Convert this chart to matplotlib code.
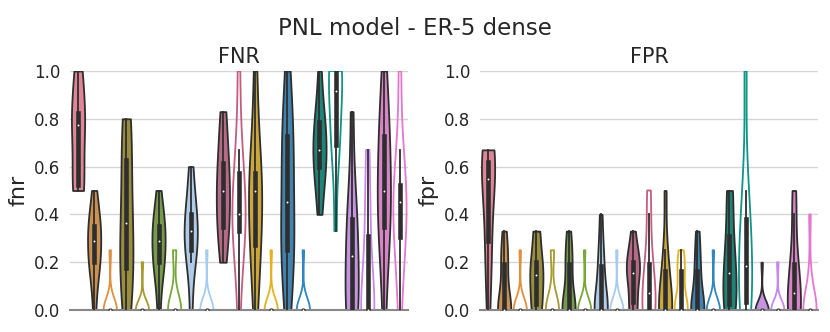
import matplotlib
matplotlib.use('Agg')
import matplotlib.pyplot as plt
import numpy as np
import colorsys
from matplotlib import colors as mcolors

# 방법별 색상 (첫 번째는 채워진 것 하나, 나머지는 채움/윤곽 쌍)
base_colors = ['#f0748f', '#e0903d', '#a89a2e', '#78a83a', '#a6cbf0', '#c45c82',
               '#e5b21f', '#2f86c0', '#0d9585', '#c986ec', '#e676cf']

# 각 바이올린: (색 번호, 채움 여부)
violin_keys = [(0, True)]
for c in range(1, len(base_colors)):
    violin_keys += [(c, True), (c, False)]

Z9 = [0, 0, 0, 0, 0, 0, 0, 0, 0]

fnr_values = [
    [0.5, 0.5, 0.5, 0.6, 0.75, 0.8, 0.8, 0.83, 1.0, 1.0],
    [0, 0.15, 0.2, 0.2, 0.25, 0.33, 0.33, 0.36, 0.4, 0.5],
    Z9 + [0.25],
    [0, 0.1, 0.17, 0.2, 0.33, 0.4, 0.5, 0.67, 0.75, 0.8],
    Z9 + [0.2],
    [0, 0.15, 0.2, 0.2, 0.25, 0.33, 0.33, 0.36, 0.4, 0.5],
    Z9[:8] + [0.25, 0.25],
    [0, 0.2, 0.25, 0.25, 0.33, 0.33, 0.4, 0.4, 0.5, 0.6],
    Z9 + [0.25],
    [0.2, 0.33, 0.33, 0.4, 0.5, 0.5, 0.6, 0.62, 0.75, 0.83],
    [0, 0.25, 0.33, 0.33, 0.4, 0.4, 0.5, 0.6, 0.67, 1.0],
    [0, 0.2, 0.25, 0.33, 0.5, 0.5, 0.5, 0.6, 0.75, 1.0],
    Z9 + [0.25],
    [0, 0.2, 0.25, 0.25, 0.4, 0.5, 0.67, 0.75, 0.75, 1.0],
    Z9 + [0.25],
    [0.4, 0.5, 0.6, 0.6, 0.67, 0.67, 0.75, 0.8, 0.83, 1.0],
    [0.33, 0.67, 0.67, 0.75, 0.83, 1.0, 1.0, 1.0, 1.0, 1.0],
    [0, 0, 0, 0, 0.2, 0.25, 0.33, 0.4, 0.5, 0.83],
    [0, 0, 0, 0, 0, 0, 0.25, 0.33, 0.5, 0.67],
    [0, 0.25, 0.33, 0.4, 0.5, 0.5, 0.67, 0.75, 0.8, 1.0],
    [0, 0.2, 0.3, 0.33, 0.4, 0.5, 0.5, 0.53, 0.67, 1.0],
]

fpr_values = [
    [0, 0.2, 0.25, 0.4, 0.5, 0.6, 0.6, 0.625, 0.67, 0.67],
    [0, 0, 0, 0, 0, 0, 0.17, 0.2, 0.25, 0.33],
    Z9 + [0.25],
    [0, 0, 0, 0.1, 0.14, 0.15, 0.2, 0.2, 0.33, 0.33],
    Z9[:8] + [0.25, 0.25],
    [0, 0, 0, 0, 0, 0, 0.17, 0.2, 0.25, 0.33],
    Z9 + [0.25],
    [0, 0, 0, 0, 0, 0, 0.14, 0.2, 0.25, 0.4],
    Z9 + [0.25],
    [0, 0, 0, 0.14, 0.14, 0.17, 0.2, 0.2, 0.25, 0.33],
    [0, 0, 0, 0, 0, 0.14, 0.17, 0.2, 0.4, 0.5],
    [0, 0, 0, 0, 0, 0, 0.14, 0.17, 0.25, 0.5],
    [0, 0, 0, 0, 0, 0, 0.14, 0.17, 0.2, 0.25],
    [0, 0, 0, 0, 0, 0, 0.14, 0.17, 0.25, 0.33],
    Z9 + [0.25],
    [0, 0, 0, 0.1, 0.14, 0.17, 0.25, 0.33, 0.5, 0.5],
    [0, 0, 0, 0.14, 0.17, 0.2, 0.33, 0.4, 0.5, 1.0],
    Z9 + [0.2],
    Z9 + [0.2],
    [0, 0, 0, 0, 0, 0.14, 0.17, 0.2, 0.4, 0.5],
    Z9[:8] + [0.14, 0.4],
]

GRAY = '#2e2e2e'
LW = 1.3


def desaturate(color, prop=0.75):
    h, l, s = colorsys.rgb_to_hls(*mcolors.to_rgb(color))
    return colorsys.hls_to_rgb(h, l, s * prop)


def draw_panel(ax, values, title, ylabel):
    pos = np.arange(len(values))
    parts = ax.violinplot(values, positions=pos, widths=0.82, showextrema=False,
                          showmeans=False, showmedians=False, points=100)
    for body, (ci, filled) in zip(parts['bodies'], violin_keys):
        body.set_alpha(1)
        body.set_linewidth(LW)
        if filled:
            body.set_facecolor(desaturate(base_colors[ci]))
            body.set_edgecolor(GRAY)
        else:
            body.set_facecolor('none')
            body.set_edgecolor(base_colors[ci])
        body.set_zorder(2)

    # 안쪽 박스 (seaborn 스타일)
    for x, d in zip(pos, values):
        d = np.asarray(d, dtype=float)
        q25, q50, q75 = np.percentile(d, [25, 50, 75])
        lim = 1.5 * (q75 - q25)
        h1 = d[d >= q25 - lim].min()
        h2 = d[d <= q75 + lim].max()
        ax.plot([x, x], [h1, h2], color=GRAY, lw=LW, zorder=3)
        ax.plot([x, x], [q25, q75], color=GRAY, lw=3.3, zorder=3)
        ax.scatter(x, q50, color='white', edgecolor=GRAY, s=5,
                   linewidth=0.8, zorder=4)

    ax.set_xlim(-0.5, len(values) - 0.5)
    ax.set_ylim(0, 1.0)
    ax.set_yticks([0, 0.2, 0.4, 0.6, 0.8, 1.0])
    ax.set_xticks([])
    ax.grid(axis='y', color='#d5d5d5', lw=1.0, zorder=0)
    ax.set_axisbelow(True)
    for s in ['left', 'right', 'top']:
        ax.spines[s].set_visible(False)
    ax.spines['bottom'].set_color('#888888')
    ax.spines['bottom'].set_linewidth(1.5)
    ax.tick_params(axis='y', length=0, pad=7, labelsize=12, labelcolor='#262626')
    ax.set_title(title, fontsize=15, color='#262626')
    ax.set_ylabel(ylabel, fontsize=16, color='#262626')


fig = plt.figure(figsize=(8.3, 3.32), dpi=100)
ax1 = fig.add_axes([70 / 830, 1 - 310 / 332, 338 / 830, 239 / 332])
ax2 = fig.add_axes([480 / 830, 1 - 310 / 332, 338 / 830, 239 / 332])
draw_panel(ax1, fnr_values, 'FNR', 'fnr')
draw_panel(ax2, fpr_values, 'FPR', 'fpr')
fig.suptitle('PNL model - ER-5 dense', fontsize=16.5, y=0.95, color='#262626')
fig.savefig('out.png', dpi=100)
